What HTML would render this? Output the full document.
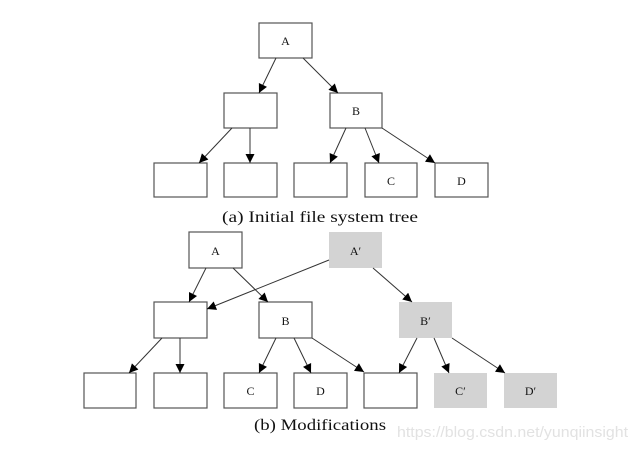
<!DOCTYPE html>
<html><head><meta charset="utf-8"><style>
html,body{margin:0;padding:0;background:#fff;}
svg{display:block;}
</style></head><body>
<svg width="638" height="452" viewBox="0 0 638 452" xmlns="http://www.w3.org/2000/svg">
<defs>
<marker id="ar" viewBox="0 0 10 10" refX="10" refY="5" markerWidth="10" markerHeight="9" markerUnits="userSpaceOnUse" orient="auto">
<path d="M0,0 L10,5 L0,10 z" fill="#000"/>
</marker>
</defs>
<g fill="#fff" stroke="#555" stroke-width="1.2">
<rect x="259" y="23" width="53" height="35"/>
<rect x="224" y="93" width="53" height="35"/>
<rect x="330" y="93" width="52" height="35"/>
<rect x="154" y="163" width="53" height="34"/>
<rect x="224" y="163" width="53" height="34"/>
<rect x="294" y="163" width="53" height="34"/>
<rect x="365" y="163" width="52" height="34"/>
<rect x="435" y="163" width="53" height="34"/>
<rect x="189" y="232" width="53" height="36"/>
<rect x="154" y="302" width="53" height="36"/>
<rect x="259" y="302" width="53" height="36"/>
<rect x="84" y="373" width="52" height="35"/>
<rect x="154" y="373" width="53" height="35"/>
<rect x="224" y="373" width="53" height="35"/>
<rect x="294" y="373" width="53" height="35"/>
<rect x="364" y="373" width="53" height="35"/>
</g>
<g fill="#d3d3d3">
<rect x="329" y="232" width="53" height="36"/>
<rect x="399" y="302" width="53" height="36"/>
<rect x="434" y="373" width="53" height="35"/>
<rect x="504" y="373" width="53" height="35"/>
</g>
<g stroke="#333" stroke-width="1" marker-end="url(#ar)">
<line x1="276" y1="58" x2="259" y2="93"/>
<line x1="303" y1="58" x2="338" y2="93"/>
<line x1="232" y1="128" x2="199" y2="163"/>
<line x1="250" y1="128" x2="250" y2="163"/>
<line x1="346" y1="128" x2="330" y2="163"/>
<line x1="365" y1="128" x2="379" y2="163"/>
<line x1="382" y1="128" x2="435" y2="163"/>
<line x1="206" y1="268" x2="189" y2="302"/>
<line x1="233" y1="268" x2="268" y2="302"/>
<line x1="329" y1="260" x2="207" y2="309"/>
<line x1="373" y1="268" x2="412" y2="302"/>
<line x1="162" y1="338" x2="129" y2="373"/>
<line x1="180" y1="338" x2="180" y2="373"/>
<line x1="276" y1="338" x2="259" y2="373"/>
<line x1="294" y1="338" x2="311" y2="373"/>
<line x1="312" y1="338" x2="364" y2="372"/>
<line x1="417" y1="338" x2="399" y2="373"/>
<line x1="434" y1="338" x2="449" y2="373"/>
<line x1="452" y1="338" x2="505" y2="373"/>
</g>
<g font-family="Liberation Serif, serif" font-size="12" fill="#111" text-anchor="middle">
<text x="285.5" y="45">A</text>
<text x="356" y="115">B</text>
<text x="391" y="185">C</text>
<text x="461.5" y="185">D</text>
<text x="215.5" y="255">A</text>
<text x="355.5" y="255">A′</text>
<text x="285.5" y="325">B</text>
<text x="425.5" y="325">B′</text>
<text x="250.5" y="395">C</text>
<text x="320.5" y="395">D</text>
<text x="460.5" y="395">C′</text>
<text x="530.5" y="395">D′</text>
</g>
<g font-family="Liberation Serif, serif" font-size="16" fill="#111">
<text x="222" y="222" textLength="196" lengthAdjust="spacingAndGlyphs">(a) Initial file system tree</text>
<text x="254" y="430" textLength="132" lengthAdjust="spacingAndGlyphs">(b) Modifications</text>
</g>
<text x="397" y="437" font-family="Liberation Sans, sans-serif" font-size="15" fill="#e2e2e2" textLength="231" lengthAdjust="spacingAndGlyphs">https://blog.csdn.net/yunqiinsight</text>
</svg>
</body></html>
